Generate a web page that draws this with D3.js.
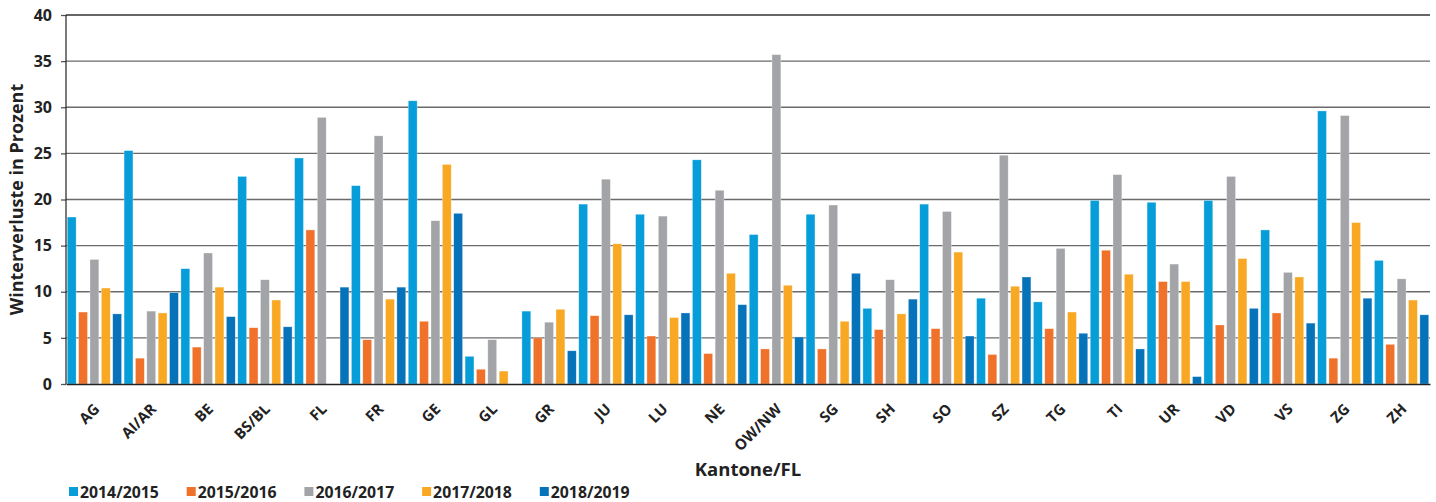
<!DOCTYPE html>
<html>
<head>
<meta charset="utf-8">
<script src="https://cdn.jsdelivr.net/npm/d3@7"></script>
<style>
  body { margin: 0; background: #fff; }
  text { font-family: "Open Sans", "DejaVu Sans", sans-serif; font-weight: bold; fill: #222; }
</style>
</head>
<body>
<div id="chart"></div>
<script>
var width = 1436;
var height = 502;

var kantone = ["AG", "AI/AR", "BE", "BS/BL", "FL", "FR", "GE", "GL", "GR", "JU", "LU", "NE",
  "OW/NW", "SG", "SH", "SO", "SZ", "TG", "TI", "UR", "VD", "VS", "ZG", "ZH"];
var seriesNames = ["2014/2015", "2015/2016", "2016/2017", "2017/2018", "2018/2019"];
var colors = ["#069dd9", "#f0712a", "#a2a4a7", "#f8a823", "#0672ba"];
var yTicks = [0, 5, 10, 15, 20, 25, 30, 35, 40];

// Winterverluste in Prozent, one array per winter (null = no value)
var w2014 = [18.1, 25.3, 12.5, 22.5, 24.5, 21.5, 30.7, 3.0, 7.9, 19.5, 18.4, 24.3,
  16.2, 18.4, 8.2, 19.5, 9.3, 8.9, 19.9, 19.7, 19.9, 16.7, 29.6, 13.4];
var w2015 = [7.8, 2.8, 4.0, 6.1, 16.7, 4.8, 6.8, 1.6, 5.0, 7.4, 5.2, 3.3,
  3.8, 3.8, 5.9, 6.0, 3.2, 6.0, 14.5, 11.1, 6.4, 7.7, 2.8, 4.3];
var w2016 = [13.5, 7.9, 14.2, 11.3, 28.9, 26.9, 17.7, 4.8, 6.7, 22.2, 18.2, 21.0,
  35.7, 19.4, 11.3, 18.7, 24.8, 14.7, 22.7, 13.0, 22.5, 12.1, 29.1, 11.4];
var w2017 = [10.4, 7.7, 10.5, 9.1, null, 9.2, 23.8, 1.4, 8.1, 15.2, 7.2, 12.0,
  10.7, 6.8, 7.6, 14.3, 10.6, 7.8, 11.9, 11.1, 13.6, 11.6, 17.5, 9.1];
var w2018 = [7.6, 9.9, 7.3, 6.2, 10.5, 10.5, 18.5, null, 3.6, 7.5, 7.7, 8.6,
  5.1, 12.0, 9.2, 5.2, 11.6, 5.5, 3.8, 0.8, 8.2, 6.6, 9.3, 7.5];
var seriesValues = [w2014, w2015, w2016, w2017, w2018];

var margin = { top: 15, right: 6, bottom: 118, left: 66 };
var innerW = width - margin.left - margin.right;
var innerH = height - margin.top - margin.bottom;

var svg = d3.select("#chart").append("svg")
  .attr("width", width)
  .attr("height", height);

var g = svg.append("g")
  .attr("transform", "translate(" + margin.left + "," + margin.top + ")");

var x0 = d3.scaleBand().domain(kantone).range([0, innerW]).padding(0);
var x1 = d3.scaleBand().domain(seriesNames).range([0, x0.bandwidth()])
  .paddingInner(0.22).paddingOuter(0.11);
var y = d3.scaleLinear().domain([0, 40]).range([innerH, 0]);

// gridlines + y axis
var yAxis = g.append("g")
  .call(d3.axisLeft(y).tickValues(yTicks).tickSize(5).tickPadding(9));
yAxis.select(".domain").remove();
yAxis.selectAll(".tick line").attr("stroke", "#555").attr("stroke-width", 1.3);
yAxis.selectAll(".tick text")
  .style("font-size", "16px")
  .attr("fill", "#222");

g.append("g")
  .selectAll("line")
  .data(yTicks.slice(1))
  .enter()
  .append("line")
  .attr("x1", 0)
  .attr("x2", innerW)
  .attr("y1", function(d) { return y(d); })
  .attr("y2", function(d) { return y(d); })
  .attr("stroke", function(d) { return d == 40 ? "#333" : "#6a6a6a"; })
  .attr("stroke-width", 1.3);

// bars
var groups = g.append("g")
  .selectAll("g")
  .data(kantone)
  .enter()
  .append("g")
  .attr("transform", function(d) { return "translate(" + x0(d) + ",0)"; });

groups.selectAll("rect")
  .data(function(d, i) {
    return seriesNames.map(function(s, j) {
      return { key: s, idx: j, value: seriesValues[j][i] };
    }).filter(function(e) { return e.value != null; });
  })
  .enter()
  .append("rect")
  .attr("x", function(d) { return x1(d.key); })
  .attr("y", function(d) { return y(d.value); })
  .attr("width", x1.bandwidth())
  .attr("height", function(d) { return innerH - y(d.value); })
  .attr("fill", function(d) { return colors[d.idx]; })
  .attr("stroke", "#fff")
  .attr("stroke-opacity", 0.5)
  .attr("stroke-width", 0.6);

// axis lines
g.append("line")
  .attr("x1", 0).attr("x2", 0)
  .attr("y1", 0).attr("y2", innerH)
  .attr("stroke", "#222").attr("stroke-width", 1.2);

var xAxis = g.append("g")
  .attr("transform", "translate(0," + innerH + ")")
  .call(d3.axisBottom(x0).tickSize(0).tickPadding(0));
xAxis.select(".domain").attr("stroke", "#222").attr("stroke-width", 1.5);
xAxis.selectAll(".tick text")
  .style("font-size", "15px")
  .attr("fill", "#222")
  .attr("text-anchor", "end")
  .attr("dy", 0)
  .attr("transform", "translate(6,26) rotate(-45)");

// axis titles
svg.append("text")
  .attr("transform", "translate(23," + (margin.top + innerH / 2) + ") rotate(-90)")
  .attr("text-anchor", "middle")
  .style("font-size", "18px")
  .text("Winterverluste in Prozent");

svg.append("text")
  .attr("x", margin.left + innerW / 2)
  .attr("y", 476)
  .attr("text-anchor", "middle")
  .style("font-size", "18.5px")
  .text("Kantone/FL");

// legend
var legend = svg.append("g")
  .selectAll("g")
  .data(seriesNames)
  .enter()
  .append("g")
  .attr("transform", function(d, i) { return "translate(" + (69 + i * 117.7) + ",487)"; });

legend.append("rect")
  .attr("width", 9)
  .attr("height", 9)
  .attr("fill", function(d, i) { return colors[i]; });

legend.append("text")
  .attr("x", 11)
  .attr("y", 10.5)
  .style("font-size", "15.8px")
  .text(function(d) { return d; });
</script>
</body>
</html>
